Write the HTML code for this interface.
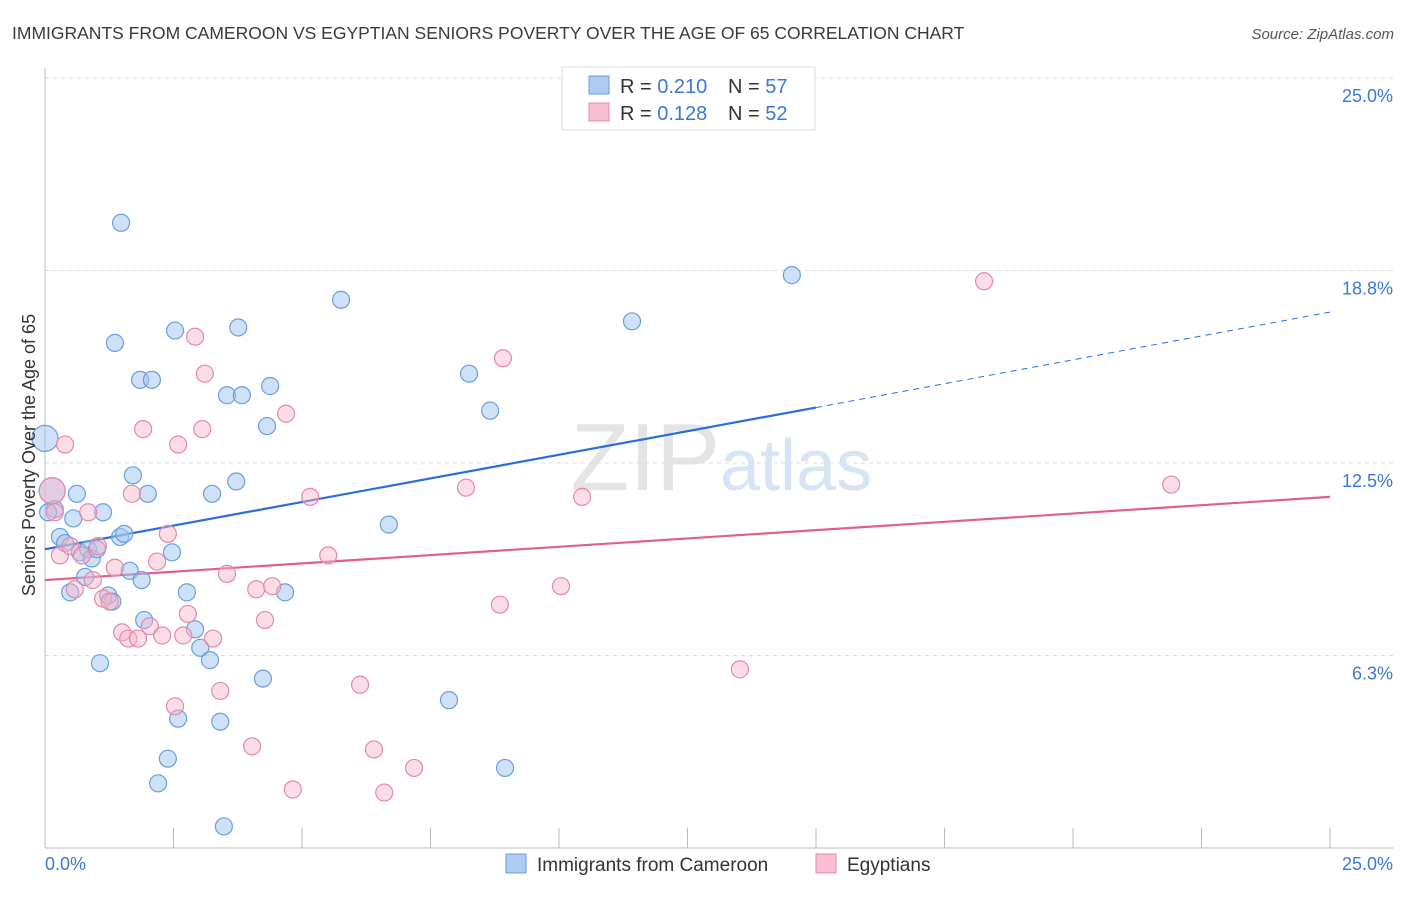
<!DOCTYPE html>
<html><head><meta charset="utf-8"><style>
body{margin:0;background:#fff;font-family:"Liberation Sans",sans-serif;}
svg text{font-family:"Liberation Sans",sans-serif;}
</style></head><body>
<svg id="chart" width="1406" height="892" xmlns="http://www.w3.org/2000/svg">
<text x="12" y="39" font-size="17.5" fill="#3a3a3a">IMMIGRANTS FROM CAMEROON VS EGYPTIAN SENIORS POVERTY OVER THE AGE OF 65 CORRELATION CHART</text>
<text x="1394" y="39" font-size="15" fill="#555" text-anchor="end" font-style="italic">Source: ZipAtlas.com</text>
<text x="720" y="490" font-size="96" fill="#e4e4e4" text-anchor="end" font-family="Liberation Serif">ZIP</text>
<text x="720" y="490" font-size="72" fill="#d6e4f4">atlas</text>
<g id="grid"></g><g id="axes"></g><g id="lines"></g><g id="pts"></g>
<g>
<rect x="562" y="67" width="253" height="63" fill="#fff" stroke="#ddd"/>
<rect x="589" y="76" width="20" height="18" fill="#aecbf2" stroke="#6a9ee0"/>
<text x="620" y="93" font-size="20" fill="#333">R = <tspan fill="#3a78d8">0.210</tspan></text>
<text x="728" y="93" font-size="20" fill="#333">N = <tspan fill="#3a78d8">57</tspan></text>
<rect x="589" y="103" width="20" height="18" fill="#f8c0d0" stroke="#e888a8"/>
<text x="620" y="120" font-size="20" fill="#333">R = <tspan fill="#3a78d8">0.128</tspan></text>
<text x="728" y="120" font-size="20" fill="#333">N = <tspan fill="#3a78d8">52</tspan></text>
</g>
<g>
<rect x="506" y="854" width="20" height="19" fill="#aecbf2" stroke="#6a9ee0"/>
<text x="537" y="871" font-size="19" fill="#333">Immigrants from Cameroon</text>
<rect x="816" y="854" width="20" height="19" fill="#f8c0d0" stroke="#e888a8"/>
<text x="847" y="871" font-size="19" fill="#333">Egyptians</text>
</g>
<text x="35" y="455" font-size="18" fill="#333" transform="rotate(-90 35 455)" text-anchor="middle">Seniors Poverty Over the Age of 65</text>
</svg>
<script>
const yTicks=[25,18.75,12.5,6.25];
const yTickLabels=["25.0%","18.8%","12.5%","6.3%"];
const blueX=[0,0.14,0.19,0.29,0.39,0.49,0.55,0.62,0.68,0.78,0.84,0.91,1.01,1.07,1.13,1.23,1.31,1.36,1.46,1.48,1.54,1.65,1.71,1.85,1.88,1.93,2.0,2.08,2.2,2.39,2.47,2.53,2.59,2.76,2.92,3.02,3.21,3.25,3.41,3.48,3.54,3.72,3.76,3.83,4.24,4.32,4.38,4.67,5.76,6.69,7.86,8.25,8.66,8.95,11.42,14.53,0.06];
const blueY=[13.3,11.6,11.0,10.1,9.9,8.3,10.7,11.5,9.6,8.8,9.7,9.4,9.7,6.0,10.9,8.2,8.0,16.4,10.1,20.3,10.2,9.0,12.1,15.2,8.7,7.4,11.5,15.2,2.1,2.9,9.6,16.8,4.2,8.3,7.1,6.5,6.1,11.5,4.1,0.7,14.7,11.9,16.9,14.7,5.5,13.7,15.0,8.3,17.8,10.5,4.8,15.4,14.2,2.6,17.1,18.6,10.9];
const pinkX=[0.14,0.19,0.29,0.39,0.49,0.58,0.72,0.84,0.93,1.03,1.13,1.26,1.36,1.5,1.62,1.69,1.81,1.91,2.04,2.18,2.28,2.39,2.53,2.59,2.69,2.78,2.92,3.06,3.11,3.27,3.41,3.54,4.03,4.11,4.28,4.42,4.69,4.82,5.16,5.51,6.13,6.40,6.60,7.18,8.19,8.85,8.91,10.04,10.45,13.52,18.27,21.91];
const pinkY=[11.6,10.9,9.5,13.1,9.8,8.4,9.5,10.9,8.7,9.8,8.1,8.0,9.1,7.0,6.8,11.5,6.8,13.6,7.2,9.3,6.9,10.2,4.6,13.1,6.9,7.6,16.6,13.6,15.4,6.8,5.1,8.9,3.3,8.4,7.4,8.5,14.1,1.9,11.4,9.5,5.3,3.2,1.8,2.6,11.7,7.9,15.9,8.5,11.4,5.8,18.4,11.8];
const blueTrend=[9.7,14.3,17.4];
const pinkTrend=[8.7,11.4];
const X=v=>45+v*51.4, Y=v=>848-v*30.8;
const NS="http://www.w3.org/2000/svg";
function mk(t,a,p){const e=document.createElementNS(NS,t);for(const k in a)e.setAttribute(k,a[k]);document.getElementById(p).appendChild(e);return e;}
yTicks.forEach((t,i)=>{
 const g=mk('line',{x1:45,x2:1394,y1:Y(t),y2:Y(t),stroke:'#ddd','stroke-dasharray':'4,4'},'grid');
 
 
 const l=mk('text',{x:1393,y:Y(t)+24,'font-size':18,fill:'#3a78d8','text-anchor':'end'},'grid');l.textContent=yTickLabels[i];
 
 
});
mk('line',{x1:45,x2:45,y1:68,y2:848,stroke:'#bbb'},'axes');
mk('line',{x1:45,x2:1394,y1:848,y2:848,stroke:'#bbb'},'axes');
for(let i=0;i<=10;i++){mk('line',{x1:X(i*2.5),x2:X(i*2.5),y1:828,y2:848,stroke:'#bbb'},'axes');}
let t0=mk('text',{x:45,y:870,'font-size':18,fill:'#3a78d8'},'axes');t0.textContent='0.0%';


let t1=mk('text',{x:1393,y:870,'font-size':18,fill:'#3a78d8','text-anchor':'end'},'axes');t1.textContent='25.0%';


const bl=mk('line',{x1:X(0),y1:Y(blueTrend[0]),x2:X(15),y2:Y(blueTrend[1]),stroke:'#2a6fd8','stroke-width':2.2},'lines');


const bd=mk('line',{x1:X(15),y1:Y(blueTrend[1]),x2:X(25),y2:Y(blueTrend[2]),stroke:'#2a6fd8','stroke-width':1,'stroke-dasharray':'6,5'},'lines');


const pl=mk('line',{x1:X(0),y1:Y(pinkTrend[0]),x2:X(25),y2:Y(pinkTrend[1]),stroke:'#e0608a','stroke-width':2.2},'lines');


blueX.forEach((x,i)=>{const c=mk('circle',{cx:X(x),cy:Y(blueY[i]),r:(i<2?13:8.5),fill:'rgba(160,196,240,0.5)',stroke:'#6a9ee0','stroke-width':1.2},'pts');
 
 });
pinkX.forEach((x,i)=>{const c=mk('circle',{cx:X(x),cy:Y(pinkY[i]),r:(i<1?13:8.5),fill:'rgba(246,180,200,0.45)',stroke:'#e888a8','stroke-width':1.2},'pts');
 
 });
</script>
</body></html>
